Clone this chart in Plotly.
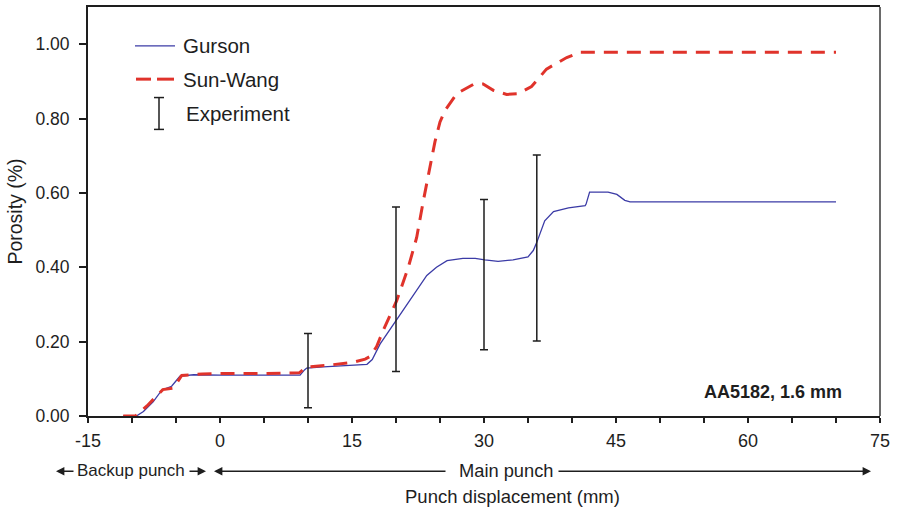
import plotly.graph_objects as go

# ---------------- data ----------------
gurson_x = [-11, -9.5, -8.7, -7.6, -6.6, -5.5, -4.55, -3.0, 0, 5, 9.1, 9.6, 9.85, 11.75, 14.0, 16.7,
            17.3, 18.2, 20.1, 21.8, 23.5, 24.6, 25.8, 27.6, 29.0, 30.1, 31.6, 33.3, 35.0, 35.6,
            36.0, 36.9, 37.9, 39.6, 41.5, 41.6, 42.0, 44.1, 45.1, 46.0, 46.6, 50, 60, 70]
gurson_y = [0, 0, 0.012, 0.038, 0.070, 0.080, 0.107, 0.111, 0.110, 0.110, 0.110, 0.124, 0.129, 0.132,
            0.135, 0.139, 0.152, 0.194, 0.260, 0.320, 0.378, 0.400, 0.418, 0.424, 0.424, 0.420,
            0.416, 0.420, 0.428, 0.445, 0.467, 0.525, 0.550, 0.560, 0.566, 0.570, 0.602, 0.602,
            0.596, 0.580, 0.576, 0.576, 0.576, 0.576]

sunwang_x = [-11, -9.6, -8.3, -7.4, -6.5, -5.3, -4.35, -2.0, 0, 5, 9.0, 9.85, 12.1, 15.0, 16.5, 17.05,
             17.8, 18.56, 19.7, 20.08, 21.4, 22.35, 23.1, 23.86, 24.43, 25.0, 25.57, 26.9, 28.8,
             29.9, 31.06, 32.58, 33.9, 35.4, 36.36, 37.1, 39.4, 40.9, 41.5, 50, 60, 70]
sunwang_y = [0, 0, 0.027, 0.050, 0.071, 0.075, 0.109, 0.113, 0.114, 0.114, 0.116, 0.132, 0.136, 0.144,
             0.153, 0.160, 0.187, 0.231, 0.292, 0.310, 0.400, 0.480, 0.578, 0.667, 0.738, 0.791,
             0.822, 0.867, 0.892, 0.893, 0.876, 0.865, 0.867, 0.886, 0.911, 0.933, 0.964, 0.978,
             0.978, 0.978, 0.978, 0.978]

exp_x = [10, 20, 30, 36]
exp_mean = [0.122, 0.341, 0.380, 0.452]
exp_err = [0.100, 0.221, 0.202, 0.250]

x_tick_vals = list(range(-15, 80, 5))
x_tick_text = [str(v) if v % 15 == 0 else "" for v in x_tick_vals]
y_tick_vals = [0.0, 0.2, 0.4, 0.6, 0.8, 1.0]

# ---------------- styling ----------------
BLUE = "#3b3ba6"
RED = "#e0332b"
INK = "#1e1e1e"
FONT = "Liberation Sans, Arial, sans-serif"

W, H = 897, 515
ML, MR, MT, MB = 88, 17, 5, 99
PW, PH = W - ML - MR, H - MT - MB


def px(xp):
    return (xp - ML) / PW


def py(yp):
    return (H - MB - yp) / PH


fig = go.Figure()
fig.add_trace(go.Scatter(x=gurson_x, y=gurson_y, mode="lines", name="Gurson",
                         line=dict(color=BLUE, width=1.3), showlegend=False))
fig.add_trace(go.Scatter(x=sunwang_x, y=sunwang_y, mode="lines", name="Sun-Wang",
                         line=dict(color=RED, width=3, dash="14px,9px"), showlegend=False))
fig.add_trace(go.Scatter(x=exp_x, y=exp_mean, mode="markers", name="Experiment",
                         marker=dict(size=1, color="rgba(0,0,0,0)"),
                         error_y=dict(type="data", array=exp_err, visible=True,
                                      color=INK, thickness=1.5, width=4),
                         showlegend=False))

shapes = []
annotations = []

# right frame border (grey)
shapes.append(dict(type="line", xref="paper", yref="paper", x0=1, x1=1, y0=0, y1=1,
                   line=dict(color="#6a6a6a", width=2)))

# manual legend
shapes.append(dict(type="line", xref="paper", yref="paper", x0=px(135), x1=px(175),
                   y0=py(44), y1=py(44), line=dict(color=BLUE, width=1.3)))
shapes.append(dict(type="line", xref="paper", yref="paper", x0=px(136), x1=px(151),
                   y0=py(77.5), y1=py(77.5), line=dict(color=RED, width=3)))
shapes.append(dict(type="line", xref="paper", yref="paper", x0=px(157), x1=px(174),
                   y0=py(77.5), y1=py(77.5), line=dict(color=RED, width=3)))
shapes.append(dict(type="line", xref="paper", yref="paper", x0=px(159), x1=px(159),
                   y0=py(96), y1=py(128), line=dict(color=INK, width=1.5)))
shapes.append(dict(type="line", xref="paper", yref="paper", x0=px(154), x1=px(164),
                   y0=py(96), y1=py(96), line=dict(color=INK, width=1.5)))
shapes.append(dict(type="line", xref="paper", yref="paper", x0=px(154), x1=px(164),
                   y0=py(128), y1=py(128), line=dict(color=INK, width=1.5)))

for label, xl, yl in [("Gurson", 181, 44), ("Sun-Wang", 181, 77.5), ("Experiment", 184, 112)]:
    annotations.append(dict(text=label, xref="paper", yref="paper", x=px(xl), y=py(yl),
                            xanchor="left", yanchor="middle", showarrow=False,
                            font=dict(family=FONT, size=20.5, color=INK)))

# material label
annotations.append(dict(text="<b>AA5182, 1.6 mm</b>", xref="paper", yref="paper",
                        x=px(844), y=py(392), xanchor="right", yanchor="middle",
                        showarrow=False, font=dict(family=FONT, size=18, color=INK)))

# punch range labels
annotations.append(dict(text="Backup punch", xref="paper", yref="paper", x=px(131), y=py(471),
                        xanchor="center", yanchor="middle", showarrow=False,
                        font=dict(family=FONT, size=17, color=INK)))
annotations.append(dict(text="Main punch", xref="paper", yref="paper", x=px(506.5), y=py(471),
                        xanchor="center", yanchor="middle", showarrow=False,
                        font=dict(family=FONT, size=18.3, color=INK)))
annotations.append(dict(text="Punch displacement (mm)", xref="paper", yref="paper",
                        x=px(512), y=py(497), xanchor="center", yanchor="middle",
                        showarrow=False, font=dict(family=FONT, size=18.5, color=INK)))

# arrows: (head_px, tail_px)
for head, tail in [(56, 75), (206, 188), (214, 447), (871, 557)]:
    annotations.append(dict(text="", xref="paper", yref="paper", x=px(head), y=py(471.5),
                            axref="pixel", ayref="pixel", ax=tail - head, ay=0,
                            showarrow=True, arrowhead=2, arrowsize=1.2, arrowwidth=1.4,
                            arrowcolor=INK))

fig.update_layout(
    width=W, height=H,
    margin=dict(l=ML, r=MR, t=MT, b=MB, pad=0),
    paper_bgcolor="white", plot_bgcolor="white",
    font=dict(family=FONT, color=INK),
    shapes=shapes, annotations=annotations,
    showlegend=False,
)
fig.update_xaxes(range=[-15, 75], tickmode="array", tickvals=x_tick_vals, ticktext=x_tick_text,
                 ticks="outside", ticklen=5, tickwidth=1.5, tickcolor=INK,
                 showline=True, linecolor=INK, linewidth=2, mirror=True,
                 showgrid=False, zeroline=False, ticklabelstandoff=2,
                 tickfont=dict(family=FONT, size=18, color=INK))
fig.update_yaxes(range=[0, 1.1], tickmode="array", tickvals=y_tick_vals, tickformat=".2f",
                 ticks="outside", ticklen=7, tickwidth=1.5, tickcolor=INK,
                 showline=True, linecolor=INK, linewidth=2,
                 showgrid=False, zeroline=False, ticklabelstandoff=6,
                 tickfont=dict(family=FONT, size=17.5, color=INK),
                 title=dict(text="Porosity (%)", font=dict(family=FONT, size=19.5, color=INK),
                            standoff=8))

fig.write_html("out.html")
